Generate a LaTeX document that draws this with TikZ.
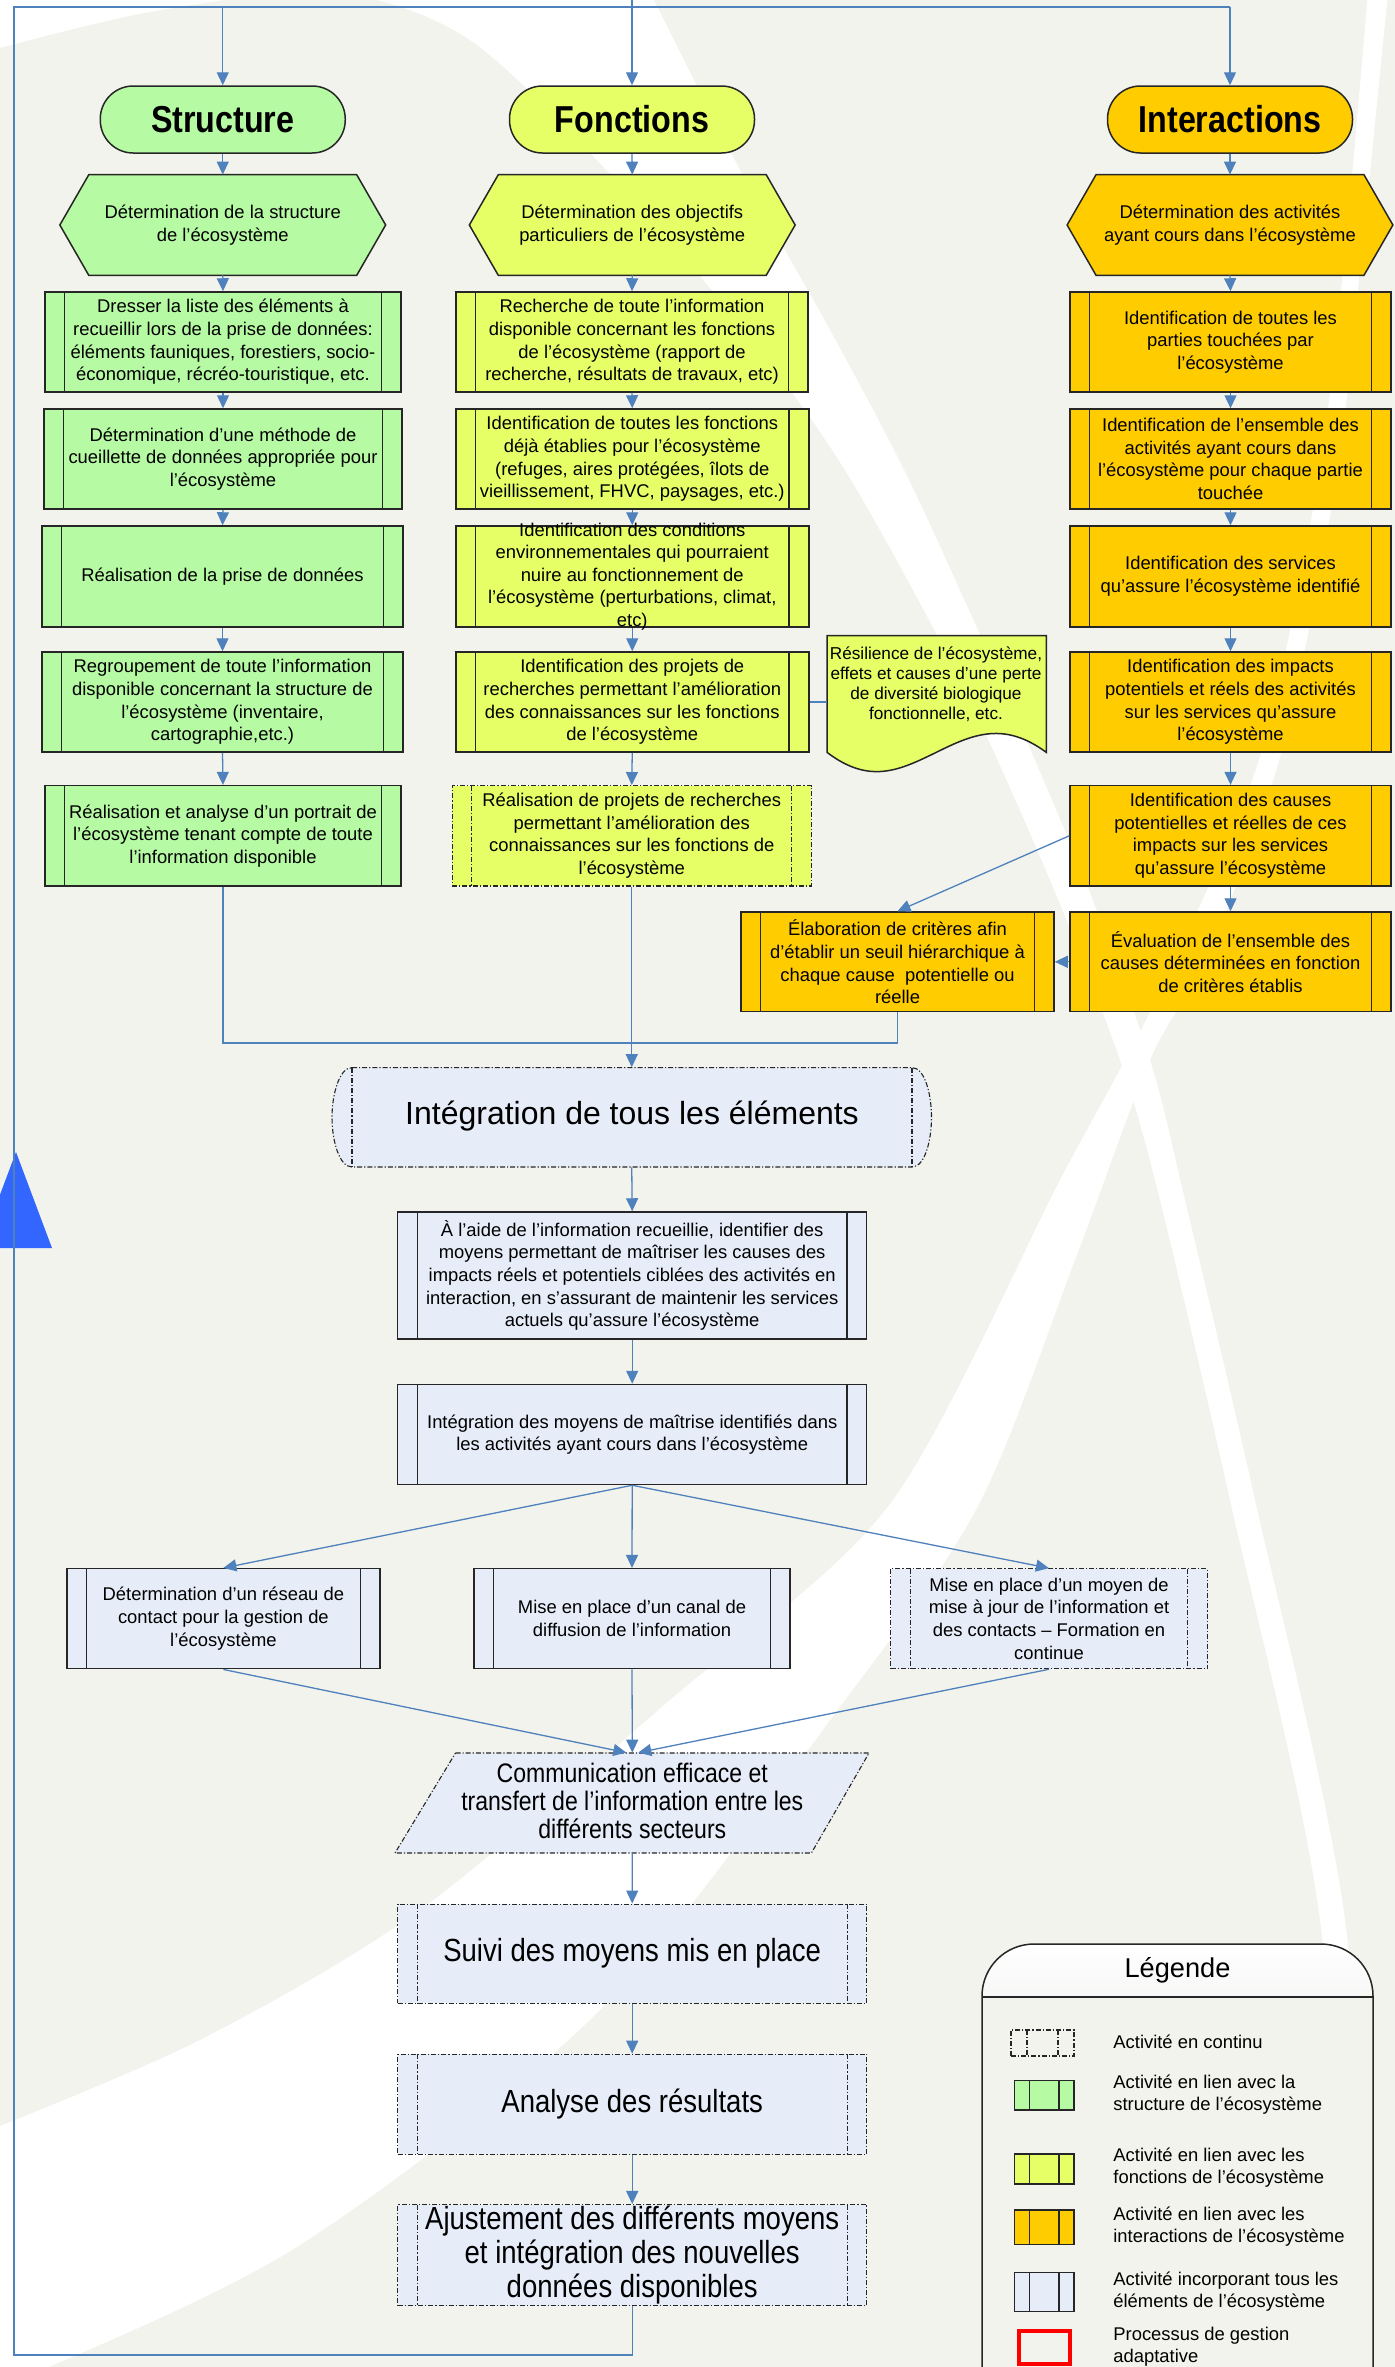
\documentclass[tikz,border=0pt]{standalone}
\usepackage{fontspec}
\setmainfont{Liberation Sans}
\newfontfamily\narrowfont[FakeStretch=0.86]{Liberation Sans}
\usetikzlibrary{arrows.meta}

\definecolor{bgc}{RGB}{242,243,236}
\definecolor{grn}{RGB}{183,250,164}
\definecolor{ylw}{RGB}{230,255,102}
\definecolor{org}{RGB}{255,204,0}
\definecolor{lbl}{RGB}{230,236,248}
\definecolor{conc}{RGB}{79,129,189}
\definecolor{tri}{RGB}{51,102,255}
\definecolor{bord}{RGB}{38,38,38}
\definecolor{hdr}{RGB}{232,232,230}

\newcommand\ttlfont{\narrowfont\bfseries\fontsize{18.75pt}{20pt}\selectfont}

\tikzset{
  conn/.style={draw=conc, line width=0.65pt},
  arr/.style={conn, -{Triangle[length=6.5pt,width=6pt]}},
  shp/.style={draw=bord, line width=0.75pt, inner sep=0pt},
  dsh/.style={draw=bord, line width=0.55pt, dash pattern=on 2.5pt off 1pt on 0.6pt off 1pt},
  bars/.style 2 args={path picture={\draw[#2] ([xshift=#1]path picture bounding box.north west) -- ([xshift=#1]path picture bounding box.south west) ([xshift=-#1]path picture bounding box.north east) -- ([xshift=-#1]path picture bounding box.south east);}},
  proc/.style={shp, rectangle, fill=#1, bars={9.8pt}{draw=bord,line width=0.75pt}},
  cproc/.style={dsh, rectangle, inner sep=0pt, fill=#1, bars={9.8pt}{dsh}},
  lproc/.style={shp, rectangle, fill=#1, bars={7.4pt}{draw=bord,line width=0.75pt}},
  lcproc/.style={dsh, rectangle, inner sep=0pt, fill=none, bars={8pt}{dsh}},
  txt/.style={align=center, inner sep=0pt, font=\fontsize{9.2pt}{11.3pt}\selectfont},
  doctxt/.style={align=center, inner sep=0pt, font=\fontsize{8.6pt}{10pt}\selectfont},
  bigtxt/.style={align=center, inner sep=0pt, font=\narrowfont\fontsize{16pt}{17pt}\selectfont},
  comtxt/.style={align=center, inner sep=0pt, font=\narrowfont\fontsize{13.4pt}{14pt}\selectfont},
  legtxt/.style={align=left, anchor=west, inner sep=0pt, font=\fontsize{9.2pt}{11pt}\selectfont},
}

% name cx cy w h style text
\newcommand\pbox[8][txt]{%
  \node[#7, minimum width=#5*0.5pt, minimum height=#6*0.5pt] (#2) at (#3,#4) {};
  \node[#1] (#2t) at (#2.center) {#8};}
\newcommand\hexbox[5]{%
  \node[minimum width=162.5pt, minimum height=50pt, inner sep=0pt] (#1) at (#2,#3) {};
  \draw[shp, fill=#4] (#1.west) -- ([xshift=14.5pt]#1.north west) -- ([xshift=-14.5pt]#1.north east) -- (#1.east) -- ([xshift=-14.5pt]#1.south east) -- ([xshift=14.5pt]#1.south west) -- cycle;
  \node[txt] (#1t) at (#1.center) {#5};}
\newcommand\term[5]{%
  \node[shp, rectangle, rounded corners=16.5pt, fill=#4, minimum width=122.5pt, minimum height=33.5pt, font=\ttlfont] (#1) at (#2,#3) {#5};}

\begin{document}
\begin{tikzpicture}[x=0.5pt,y=-0.5pt]
\useasboundingbox (0,0) rectangle (1395,2367);
\clip (0,0) rectangle (1395,2367);
\fill[bgc] (0,0) rectangle (1395,2367);
% background swooshes
\fill[white] plot[smooth] coordinates {(0,48) (150,12) (330,-8) (470,40) (625,190) (760,350) (851,480) (960,680) (1050,880) (1120,1060) (1160,1200) (1230,1500) (1320,1920) (1345,2380)}
  -- plot[smooth] coordinates {(1372,2380) (1345,1920) (1255,1500) (1185,1200) (1150,1060) (1085,880) (1000,680) (909,480) (830,330) (740,170) (650,-8)} -- (0,-8) -- cycle;
\fill[white] plot[smooth] coordinates {(1368,-8) (1345,250) (1318,480) (1262,750) (1180,950) (1125,1060) (1060,1180) (890,1504) (670,1700) (420,1910) (200,2040) (-10,2130)}
  -- plot[smooth] coordinates {(-10,2380) (30,2375) (300,2245) (600,2010) (845,1700) (979,1504) (1075,1260) (1150,1060) (1210,950) (1282,750) (1336,480) (1362,250) (1388,-8)} -- cycle;

% big triangle
\fill[tri] (16,1152) -- (52,1248) -- (-20,1248) -- cycle;

% ---- column titles
\term{St}{222.75}{119.5}{grn}{Structure}
\term{Ft}{632}{119.5}{ylw}{Fonctions}
\term{It}{1230}{119.5}{org}{Interactions}

\hexbox{Sh}{222.75}{225}{grn}{Détermination de la structure\\de l’écosystème}
\hexbox{Fh}{632.25}{225}{ylw}{Détermination des objectifs\\particuliers de l’écosystème}
\hexbox{Ih}{1230}{225}{org}{Détermination des activités\\ayant cours dans l’écosystème}

% ---- Structure column
\pbox{S1}{223}{342}{356}{100}{proc=grn}{Dresser la liste des éléments à\\recueillir lors de la prise de données:\\éléments fauniques, forestiers, socio-\\économique, récréo-touristique, etc.}
\pbox{S2}{223}{459}{358}{100}{proc=grn}{Détermination d’une méthode de\\cueillette de données appropriée pour\\l’écosystème}
\pbox{S3}{222.5}{576.5}{361}{101}{proc=grn}{Réalisation de la prise de données}
\pbox{S4}{222.5}{702}{361}{100}{proc=grn}{Regroupement de toute l’information\\disponible concernant la structure de\\l’écosystème (inventaire,\\cartographie,etc.)}
\pbox{S5}{223}{835.8}{356}{100.4}{proc=grn}{Réalisation et analyse d’un portrait de\\l’écosystème tenant compte de toute\\l’information disponible}

% ---- Fonctions column
\pbox{F1}{632}{342}{352}{100}{proc=ylw}{Recherche de toute l’information\\disponible concernant les fonctions\\de l’écosystème (rapport de\\recherche, résultats de travaux, etc)}
\pbox{F2}{632.25}{459}{353}{100}{proc=ylw}{Identification de toutes les fonctions\\déjà établies pour l’écosystème\\(refuges, aires protégées, îlots de\\vieillissement, FHVC, paysages, etc.)}
\pbox{F3}{632.25}{576.5}{353}{101}{proc=ylw}{Identification des conditions\\environnementales qui pourraient\\nuire au fonctionnement de\\l’écosystème (perturbations, climat,\\etc)}
\pbox{F4}{632.25}{702}{353}{100}{proc=ylw}{Identification des projets de\\recherches permettant l’amélioration\\des connaissances sur les fonctions\\de l’écosystème}
\pbox{F5}{631.75}{835.8}{359}{100.4}{cproc=ylw}{Réalisation de projets de recherches\\permettant l’amélioration des\\connaissances sur les fonctions de\\l’écosystème}

% document shape
\node[minimum width=109.25pt, minimum height=58pt, inner sep=0pt] (doc) at (936.75,694) {};
\draw[shp, fill=ylw] (doc.south west) -- (doc.north west) -- (doc.north east) -- (doc.south east)
  .. controls (1005,722) and (975,733) .. (937,752) .. controls (900,770) and (870,785) .. (doc.south west) -- cycle;
\node[doctxt] (doct) at (936,684) {Résilience de l’écosystème,\\effets et causes d’une perte\\de diversité biologique\\fonctionnelle, etc.};

% ---- Interactions column
\pbox{I1}{1230.5}{342}{321}{100}{proc=org}{Identification de toutes les\\parties touchées par\\l’écosystème}
\pbox{I2}{1230.5}{459}{321}{100}{proc=org}{Identification de l’ensemble des\\activités ayant cours dans\\l’écosystème pour chaque partie\\touchée}
\pbox{I3}{1230.5}{576.5}{321}{101}{proc=org}{Identification des services\\qu’assure l’écosystème identifié}
\pbox{I4}{1230.5}{702}{321}{100}{proc=org}{Identification des impacts\\potentiels et réels des activités\\sur les services qu’assure\\l’écosystème}
\pbox{I5}{1230.5}{835.8}{321}{100.4}{proc=org}{Identification des causes\\potentielles et réelles de ces\\impacts sur les services\\qu’assure l’écosystème}
\pbox{I6}{1230.5}{961.8}{321}{99.6}{proc=org}{Évaluation de l’ensemble des\\causes déterminées en fonction\\de critères établis}
\pbox{El}{897.5}{961.8}{313}{99.6}{proc=org}{Élaboration de critères afin\\d’établir un seuil hiérarchique à\\chaque cause~ potentielle ou\\réelle}

% ---- Intégration
\node[minimum width=299.75pt, minimum height=49.7pt, inner sep=0pt] (ig) at (631.75,1117.3) {};
\path[fill=lbl] (352,1067.6) -- (912,1067.6) .. controls (925,1067.6) and (931.5,1095) .. (931.5,1117.3) .. controls (931.5,1140) and (925,1167) .. (912,1167) -- (352,1167) .. controls (339,1167) and (332,1140) .. (332,1117.3) .. controls (332,1095) and (339,1067.6) .. (352,1067.6) -- cycle;
\draw[dsh] (352,1067.6) -- (912,1067.6) .. controls (925,1067.6) and (931.5,1095) .. (931.5,1117.3) .. controls (931.5,1140) and (925,1167) .. (912,1167) -- (352,1167) .. controls (339,1167) and (332,1140) .. (332,1117.3) .. controls (332,1095) and (339,1067.6) .. (352,1067.6) -- cycle;
\draw[dsh] (352,1067.6) -- (352,1167) (912,1067.6) -- (912,1167);
\node[inner sep=0pt, font=\fontsize{16pt}{18pt}\selectfont] (igt) at (632,1116) {Intégration de tous les éléments};

% ---- lower chain
\pbox{ai}{632.2}{1275.5}{469}{127}{proc=lbl}{À l’aide de l’information recueillie, identifier des\\moyens permettant de maîtriser les causes des\\impacts réels et potentiels ciblées des activités en\\interaction, en s’assurant de maintenir les services\\actuels qu’assure l’écosystème}
\pbox{im}{632.2}{1434.5}{469}{100}{proc=lbl}{Intégration des moyens de maîtrise identifiés dans\\les activités ayant cours dans l’écosystème}
\pbox{rs}{223.4}{1618.7}{313}{100}{proc=lbl}{Détermination d’un réseau de\\contact pour la gestion de\\l’écosystème}
\pbox{cn}{632}{1618.7}{316}{100}{proc=lbl}{Mise en place d’un canal de\\diffusion de l’information}
\pbox{my}{1049}{1618.7}{317}{100}{cproc=lbl}{Mise en place d’un moyen de\\mise à jour de l’information et\\des contacts – Formation en\\continue}

\node[minimum width=237pt, minimum height=50pt, inner sep=0pt] (cm) at (632.3,1803) {};
\fill[lbl] (455.5,1753) -- (869,1753) -- (811.4,1853) -- (395,1853) -- cycle;
\draw[dsh] (455.5,1753) -- (869,1753) -- (811.4,1853) -- (395,1853) -- cycle;
\node[comtxt] (cmt) at (632.3,1801) {Communication efficace et\\transfert de l’information entre les\\différents secteurs};

\pbox[bigtxt]{sv}{632.2}{1953.7}{469}{99.3}{cproc=lbl}{Suivi des moyens mis en place}
\pbox[bigtxt]{an}{632.2}{2104.2}{469}{100}{cproc=lbl}{Analyse des résultats}
\pbox[bigtxt]{aj}{632.2}{2255}{469}{101}{cproc=lbl}{Ajustement des différents moyens\\et intégration des nouvelles\\données disponibles}

% ---- connectors
\coordinate (top) at (632,0);
\coordinate (lp1) at (632.2,2355);
\coordinate (lp2) at (14,2355);
\coordinate (lp3) at (14,7);
\coordinate (lp4) at (1230,7);
\coordinate (m1) at (223,1043);
\coordinate (m2) at (897.5,1043);

\draw[conn] (aj.south) -- (lp1) -- (lp2) -- (lp3) -- (lp4);
\draw[arr] (lp4) -- (It.north);
\draw[arr] (St.north |- lp3) -- (St.north);
\draw[arr] (top) -- (Ft.north);

\foreach \a/\b in {St/Sh,Sh/S1,S1/S2,S2/S3,S3/S4,S4/S5,
                   Ft/Fh,Fh/F1,F1/F2,F2/F3,F3/F4,F4/F5,
                   It/Ih,Ih/I1,I1/I2,I2/I3,I3/I4,I4/I5,I5/I6,
                   F5/ig,ig/ai,ai/im,im/cn,cn/cm,cm/sv,sv/an,an/aj}
  \draw[arr] (\a.south) -- (\b.north);
\draw[arr] (I5.west) -- (El.north);
\draw[arr] (I6.west) -- (El.east);
\draw[conn] (F4.east) -- (F4.east -| doc.west);
\draw[conn] (S5.south) -- (m1) -- (m2) -- (El.south);
\draw[arr] (im.south) -- (rs.north);
\draw[arr] (im.south) -- (my.north);
\draw[arr] (rs.south) -- ([xshift=-3pt]cm.north);
\draw[arr] (my.south) -- ([xshift=3pt]cm.north);

% ---- legend
\fill[bgc, rounded corners=26pt] (982,2420) -- (982,1944) -- (1373,1944) -- (1373,2420) -- cycle;
\begin{scope}
  \clip (975,1930) rectangle (1380,1997);
  \shade[top color=white, bottom color=hdr, rounded corners=26pt] (982,1944) rectangle (1373,2100);
\end{scope}
\draw[shp, rounded corners=26pt] (982,2420) -- (982,1944) -- (1373,1944) -- (1373,2420);
\draw[shp] (982,1997) -- (1373,1997);
\node[inner sep=0pt, font=\fontsize{13.6pt}{15pt}\selectfont] (lgT) at (1177.5,1970.5) {Légende};

\node[lcproc, minimum width=31.5pt, minimum height=13pt] (lg1) at (1042.5,2043) {};
\node[lproc=grn, minimum width=29.7pt, minimum height=14.7pt] (lg2) at (1044.3,2095.3) {};
\node[lproc=ylw, minimum width=29.7pt, minimum height=14.85pt] (lg3) at (1044.3,2168.9) {};
\node[lproc=org, minimum width=29.7pt, minimum height=17.3pt] (lg4) at (1044.3,2227.3) {};
\node[lproc=lbl, minimum width=29.7pt, minimum height=19.4pt] (lg5) at (1044.3,2292.1) {};
\node[draw=red, line width=2pt, inner sep=0pt, minimum width=25.5pt, minimum height=16.5pt] (lg6) at (1044.5,2347.5) {};

\node[legtxt] (lt1) at (1113,2042) {Activité en continu};
\node[legtxt] (lt2) at (1113,2095) {Activité en lien avec la\\structure de l’écosystème};
\node[legtxt] (lt3) at (1113,2168) {Activité en lien avec les\\fonctions de l’écosystème};
\node[legtxt] (lt4) at (1113,2226.5) {Activité en lien avec les\\interactions de l’écosystème};
\node[legtxt] (lt5) at (1113,2292) {Activité incorporant tous les\\éléments de l’écosystème};
\node[legtxt] (lt6) at (1113,2347) {Processus de gestion\\adaptative};
\end{tikzpicture}
\end{document}
